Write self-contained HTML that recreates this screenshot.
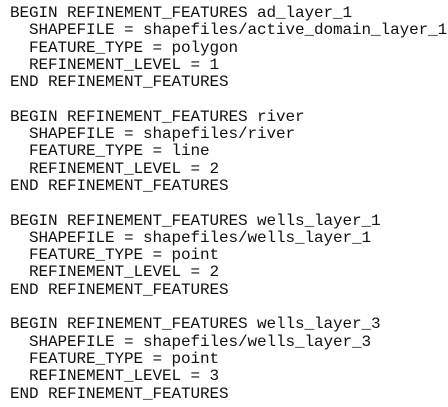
<!DOCTYPE html>
<html><head><style>
html,body{margin:0;padding:0;background:#fff;width:448px;height:407px;overflow:hidden}
pre{margin:0;padding:5px 0 0 10px;font-family:"Liberation Mono","DejaVu Sans Mono",monospace;font-size:16px;line-height:17.3px;color:#111;letter-spacing:-0.1px}
</style></head><body><pre>BEGIN REFINEMENT_FEATURES ad_layer_1
  SHAPEFILE = shapefiles/active_domain_layer_1
  FEATURE_TYPE = polygon
  REFINEMENT_LEVEL = 1
END REFINEMENT_FEATURES

BEGIN REFINEMENT_FEATURES river
  SHAPEFILE = shapefiles/river
  FEATURE_TYPE = line
  REFINEMENT_LEVEL = 2
END REFINEMENT_FEATURES

BEGIN REFINEMENT_FEATURES wells_layer_1
  SHAPEFILE = shapefiles/wells_layer_1
  FEATURE_TYPE = point
  REFINEMENT_LEVEL = 2
END REFINEMENT_FEATURES

BEGIN REFINEMENT_FEATURES wells_layer_3
  SHAPEFILE = shapefiles/wells_layer_3
  FEATURE_TYPE = point
  REFINEMENT_LEVEL = 3
END REFINEMENT_FEATURES</pre></body></html>
